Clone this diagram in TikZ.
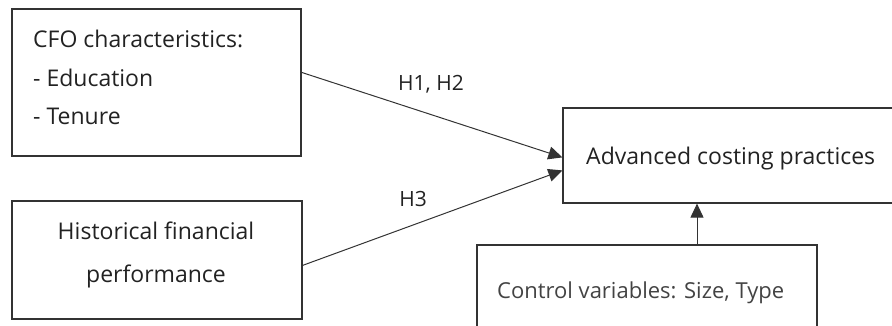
\documentclass[tikz,border=0pt]{standalone}
\usepackage{fontspec}
\setmainfont{Open Sans}
\usetikzlibrary{arrows.meta,calc}
\definecolor{ink}{HTML}{222222}
\definecolor{edge}{HTML}{333333}
\tikzset{
  box/.style={draw=edge, line width=1.2pt, inner sep=0pt},
  txt/.style={text=ink, inner sep=0pt, font=\fontsize{23}{26}\selectfont},
  lbl/.style={text=ink, inner sep=0pt, font=\fontsize{21}{24}\selectfont},
  conn/.style={draw=edge, line width=1pt, -{Triangle[length=14pt,width=13pt]}},
}
\begin{document}
\begin{tikzpicture}[x=1pt,y=-1pt]
\useasboundingbox (0,0) rectangle (892,326);
\begin{scope}
\clip (0,0) rectangle (892,326);
% boxes
\node[box, minimum width=289pt, minimum height=147pt] (cfo) at (156.5,82.5) {};
\node[box, minimum width=290pt, minimum height=118pt] (hist) at (157,260) {};
\node[box, minimum width=340pt, minimum height=95pt] (adv) at (733,155.5) {};
\node[box, minimum width=340pt, minimum height=110pt] (ctrl) at (647,300) {};
% texts
\node[txt, anchor=base west] (t1) at (33,48) {CFO characteristics:};
\node[txt, anchor=base west] (t2) at (33,87) {- Education};
\node[txt, anchor=base west] (t3) at (33,125) {- Tenure};
\node[txt, anchor=base] (t4) at (156,240) {Historical financial};
\node[txt, anchor=base] (t5) at (156,282) {performance};
\node[txt, anchor=base west] (t6) at (586,165) {Advanced costing practices};
\node[txt, anchor=base west, text=ink!85, font=\fontsize{22}{25}\selectfont] (t7) at (497,298) {Control variables: Size, Type};
\node[lbl, anchor=base] (l1) at (431,91) {H1, H2};
\node[lbl, anchor=base] (l2) at (413,206) {H3};
% connectors
\coordinate (a1s) at ($(cfo.north east)+(0,64)$);
\coordinate (a1e) at ($(adv.north west)+(0,50)$);
\coordinate (a2s) at ($(hist.north east)+(0,65)$);
\coordinate (a2e) at ($(adv.north west)+(0,63)$);
\draw[conn] (a1s) -- (a1e);
\draw[conn] (a2s) -- (a2e);
\draw[conn] (ctrl.north -| 697,0) -- (adv.south -| 697,0);
\end{scope}
\end{tikzpicture}
\end{document}
